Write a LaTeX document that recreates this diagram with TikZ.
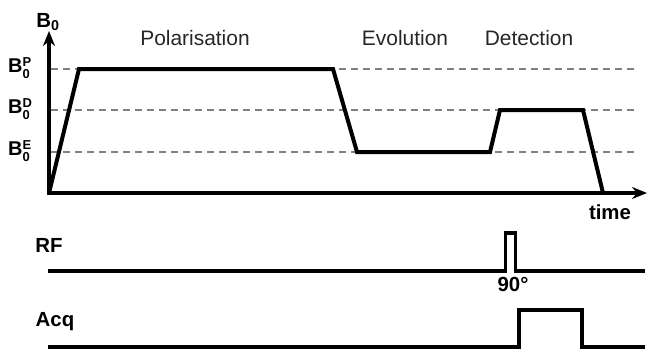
\documentclass[tikz,border=0pt]{standalone}
\usepackage{fontspec}
\setmainfont{Liberation Sans}
\usetikzlibrary{arrows.meta}
\newcommand{\lvlstack}[1]{{\fontsize{13}{10.8}\selectfont\begin{tabular}{@{}l@{}}#1\\0\end{tabular}}}
\begin{document}
\begin{tikzpicture}[x=1bp,y=-1bp,
  thickline/.style={line width=4bp, line join=miter},
  pulseline/.style={line width=3.5bp, line join=miter},
  levelline/.style={line width=1.5bp, draw=black!50, dash pattern=on 7bp off 5bp},
  axislabel/.style={font=\fontsize{20.5}{22}\selectfont\bfseries, inner sep=0pt},
  phaselabel/.style={font=\fontsize{21}{22}\selectfont, inner sep=0pt, text=black!85},
  levellabel/.style={font=\fontsize{20}{20}\selectfont\bfseries, inner sep=0pt, anchor=west}]
\useasboundingbox (0,0) rectangle (648,351);
% level lines
\draw[levelline] (51,69) -- (638,69);
\draw[levelline] (51,110) -- (638,110);
\draw[levelline] (51,152) -- (638,152);
% axes
\draw[thickline, {Stealth[length=15bp,width=12bp]}-{Stealth[length=15bp,width=12bp]}] (49,31) -- (49,193) -- (647,193);
% B0 trace
\draw[thickline] (49,193) -- (79,69) -- (333,69) -- (357,152) -- (490,152) -- (500,110) -- (583,110) -- (603,193);
% RF
\draw[pulseline] (48,271) -- (505.5,271) -- (505.5,233) -- (515.5,233) -- (515.5,271) -- (645,271);
% Acq
\draw[pulseline] (48,347) -- (519,347) -- (519,310) -- (582,310) -- (582,347) -- (645,347);
% labels
\node[axislabel] (b0) at (48,22) {B\textsubscript{0}};
\node[axislabel] (time) at (610,212) {time};
\node[axislabel] (rf) at (49,245) {RF};
\node[axislabel] (acq) at (55,322) {Acq};
\node[axislabel] (ninety) at (513,284) {90°};
\node[levellabel] (bp) at (8,70) {B\lvlstack{P}};
\node[levellabel] (bd) at (8,111) {B\lvlstack{D}};
\node[levellabel] (be) at (8,153) {B\lvlstack{E}};
\node[phaselabel] (pol) at (195,38) {Polarisation};
\node[phaselabel] (evo) at (405,38) {Evolution};
\node[phaselabel] (det) at (529,38) {Detection};
\end{tikzpicture}
\end{document}
